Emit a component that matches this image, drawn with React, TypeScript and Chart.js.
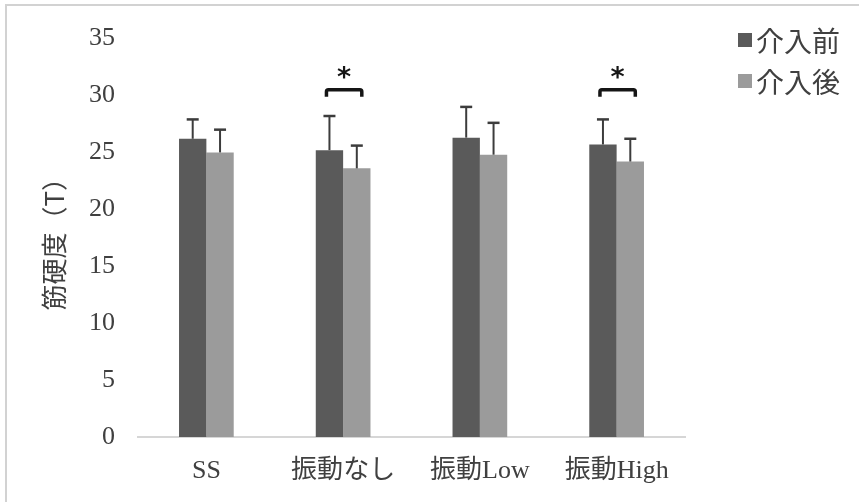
import React, { useEffect, useRef } from "react";
import { Chart, registerables } from "chart.js";

Chart.register(...registerables);

// ---- data ----
const categories = ["SS", "振動なし", "振動Low", "振動High"];
const seriesLabels = ["介入前", "介入後"];
const beforeValues = [26.2, 25.2, 26.3, 25.7];
const beforeErrors = [1.7, 3.0, 2.7, 2.2];
const afterValues = [25.0, 23.6, 24.8, 24.2];
const afterErrors = [2.0, 2.0, 2.8, 2.0];
const significantGroups = [1, 3];
const significanceLevel = 30.5;
const yMin = 0;
const yMax = 35;
const yStep = 5;
const yTitle = "筋硬度（T）";

const errorsBySeries = [beforeErrors, afterErrors];
const colors = ["#5a5a5a", "#9b9b9b"];
const textColor = "#404040";
const serifFont = "'Liberation Serif', 'Noto Sans CJK JP', serif";
const cjkFont = "'Noto Sans CJK JP', 'Liberation Serif', sans-serif";

const decorPlugin = {
  id: "decor",
  beforeDraw(chart: any) {
    const ctx = chart.ctx;
    ctx.save();
    ctx.fillStyle = "#ffffff";
    ctx.fillRect(0, 0, chart.width, chart.height);
    ctx.strokeStyle = "#d2d2d2";
    ctx.lineWidth = 2;
    ctx.beginPath();
    ctx.moveTo(6, chart.height);
    ctx.lineTo(6, 5);
    ctx.lineTo(chart.width, 5);
    ctx.stroke();
    ctx.restore();
  },
  afterDatasetsDraw(chart: any) {
    const ctx = chart.ctx;
    const yScale = chart.scales.y;
    ctx.save();
    // error bars (upper only)
    chart.data.datasets.forEach((ds: any, di: number) => {
      const meta = chart.getDatasetMeta(di);
      meta.data.forEach((el: any, i: number) => {
        const v = ds.data[i];
        const e = errorsBySeries[di][i];
        const yTop = yScale.getPixelForValue(v + e);
        ctx.strokeStyle = "#3c3c3c";
        ctx.lineWidth = 2;
        ctx.beginPath();
        ctx.moveTo(el.x, el.y);
        ctx.lineTo(el.x, yTop);
        ctx.stroke();
        ctx.lineWidth = 2.5;
        ctx.beginPath();
        ctx.moveTo(el.x - 6, yTop);
        ctx.lineTo(el.x + 6, yTop);
        ctx.stroke();
      });
    });
    // significance brackets
    const m0 = chart.getDatasetMeta(0);
    const m1 = chart.getDatasetMeta(1);
    significantGroups.forEach((g) => {
      const a = m0.data[g];
      const b = m1.data[g];
      const x1 = a.x - 3;
      const x2 = b.x + 5;
      const yb = yScale.getPixelForValue(significanceLevel);
      ctx.strokeStyle = "#151515";
      ctx.lineWidth = 3.5;
      ctx.lineJoin = "round";
      ctx.lineCap = "butt";
      ctx.beginPath();
      ctx.moveTo(x1, yb + 7);
      ctx.lineTo(x1, yb + 2);
      ctx.quadraticCurveTo(x1, yb, x1 + 2, yb);
      ctx.lineTo(x2 - 2, yb);
      ctx.quadraticCurveTo(x2, yb, x2, yb + 2);
      ctx.lineTo(x2, yb + 7);
      ctx.stroke();
      ctx.fillStyle = "#151515";
      ctx.font = "bold 27px 'DejaVu Sans', sans-serif";
      ctx.textAlign = "center";
      ctx.textBaseline = "alphabetic";
      ctx.fillText("*", (x1 + x2) / 2, yb - 4);
    });
    ctx.restore();
  },
  afterDraw(chart: any) {
    const ctx = chart.ctx;
    ctx.save();
    const rows = [40, 81];
    chart.data.datasets.forEach((ds: any, di: number) => {
      const cy = rows[di];
      ctx.fillStyle = ds.backgroundColor;
      ctx.fillRect(738, cy - 7, 14, 14);
      ctx.fillStyle = textColor;
      ctx.font = "28px " + cjkFont;
      ctx.textAlign = "left";
      ctx.textBaseline = "middle";
      ctx.fillText(ds.label, 756, cy + 1);
    });
    ctx.restore();
  },
};

export default function App() {
  const ref = useRef<HTMLCanvasElement | null>(null);
  useEffect(() => {
    if (!ref.current) return;
    const chart = new Chart(ref.current, {
      type: "bar",
      data: {
        labels: categories,
        datasets: [
          { label: seriesLabels[0], data: beforeValues, backgroundColor: colors[0], borderWidth: 0 },
          { label: seriesLabels[1], data: afterValues, backgroundColor: colors[1], borderWidth: 0 },
        ],
      },
      options: {
        responsive: false,
        animation: false,
        devicePixelRatio: 1,
        categoryPercentage: 0.4,
        barPercentage: 1.0,
        layout: { padding: { left: 0, right: 174, top: 37, bottom: 0 } },
        plugins: {
          legend: { display: false },
          tooltip: { enabled: false },
        },
        scales: {
          x: {
            grid: { display: false, drawTicks: false },
            border: { display: true, color: "#d6d6d6", width: 2 },
            ticks: {
              padding: 19,
              color: textColor,
              font: { size: 26, family: serifFont },
              maxRotation: 0,
              autoSkip: false,
            },
            afterFit: (s: any) => {
              s.height = 65;
            },
          },
          y: {
            min: yMin,
            max: yMax,
            grid: { display: false, drawTicks: false },
            border: { display: false },
            ticks: {
              stepSize: yStep,
              padding: 23,
              color: textColor,
              font: { size: 26, family: serifFont },
            },
            title: {
              display: true,
              text: yTitle,
              color: textColor,
              font: { size: 26, family: cjkFont },
              padding: { top: 39, bottom: 0 },
            },
            afterFit: (s: any) => {
              s.width = 138;
            },
          },
        },
      },
      plugins: [decorPlugin],
    });
    return () => chart.destroy();
  }, []);
  return (
    <div style={{ position: "absolute", left: 0, top: 0, width: 859, height: 502, background: "#fff" }}>
      <canvas ref={ref} width={859} height={502} style={{ width: 859, height: 502, display: "block" }} />
    </div>
  );
}
